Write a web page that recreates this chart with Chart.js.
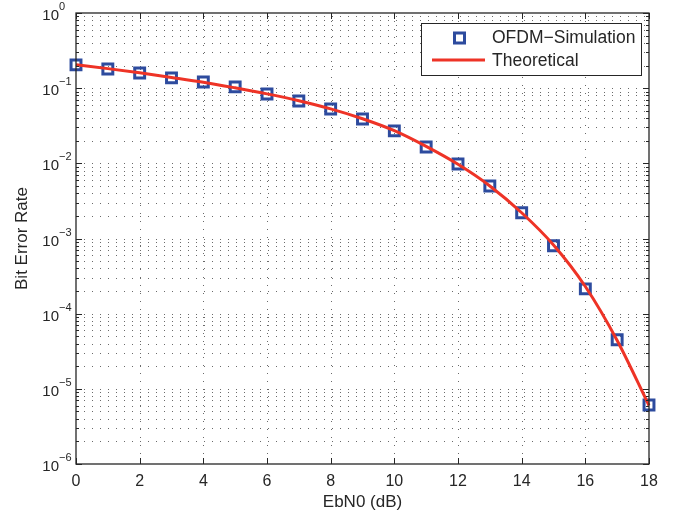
<!DOCTYPE html>
<html>
<head>
<meta charset="utf-8">
<title>BER vs EbN0</title>
<script src="https://cdn.jsdelivr.net/npm/chart.js@4.4.1/dist/chart.umd.min.js"></script>
<style>
  body { margin: 0; background: #fff; }
</style>
</head>
<body>
<canvas id="berChart" width="684" height="516"></canvas>
<script>
// values
const ebn0 = [0, 1, 2, 3, 4, 5, 6, 7, 8, 9, 10, 11, 12, 13, 14, 15, 16, 17, 18];
const simBer = [0.204, 0.180, 0.159, 0.137, 0.121, 0.104, 0.0837, 0.0676, 0.0529, 0.0389,
  0.0270, 0.0165, 0.0098, 0.0050, 0.0022, 0.00080, 0.000214, 0.000045, 0.0000061];
const theoryBer = [0.205, 0.182, 0.160, 0.139, 0.120, 0.101, 0.0840, 0.0680, 0.0530, 0.0392,
  0.0272, 0.0168, 0.0097, 0.0050, 0.0022, 0.00082, 0.000230, 0.000044, 0.0000060];
const xTicks = [0, 2, 4, 6, 8, 10, 12, 14, 16, 18];
const yDecades = [0, -1, -2, -3, -4, -5, -6];
const legendLabels = ["OFDM\u2212Simulation", "Theoretical"];

const simColor = "#2d4b9e";
const theoryColor = "#ee3326";
const axisColor = "#262626";
const fontFamily = "'Liberation Sans', Arial, sans-serif";

// MATLAB style box, inner ticks, dotted grid, 10^n labels and legend
const matlabAxes = {
  id: "matlabAxes",
  beforeDatasetsDraw(chart) {
    const { ctx, chartArea: a, scales: { x, y } } = chart;
    ctx.save();
    ctx.strokeStyle = "#6a6a6a";
    ctx.lineWidth = 1;
    ctx.setLineDash([1, 7]);
    ctx.beginPath();
    yDecades.forEach(d => {
      if (d === 0) return;
      for (let m = 1; m < 10; m++) {
        const py = Math.round(y.getPixelForValue(m * Math.pow(10, d))) + 0.5;
        if (py <= a.top + 1 || py >= a.bottom - 1) continue;
        ctx.moveTo(a.left, py);
        ctx.lineTo(a.right, py);
      }
    });
    xTicks.forEach(t => {
      const px = Math.round(x.getPixelForValue(t)) + 0.5;
      if (px <= a.left + 1 || px >= a.right - 1) return;
      ctx.moveTo(px, a.top);
      ctx.lineTo(px, a.bottom);
    });
    ctx.stroke();
    ctx.restore();
  },
  afterDraw(chart) {
    const { ctx, chartArea: a, scales: { x, y } } = chart;
    ctx.save();
    ctx.strokeStyle = axisColor;
    ctx.lineWidth = 1.3;
    ctx.setLineDash([]);
    ctx.strokeRect(a.left, a.top, a.right - a.left, a.bottom - a.top);

    // tick marks, inside
    ctx.lineWidth = 1;
    ctx.beginPath();
    xTicks.forEach(t => {
      const px = Math.round(x.getPixelForValue(t)) + 0.5;
      ctx.moveTo(px, a.bottom); ctx.lineTo(px, a.bottom - 6);
      ctx.moveTo(px, a.top); ctx.lineTo(px, a.top + 6);
    });
    yDecades.forEach(d => {
      for (let m = 1; m < 10; m++) {
        if (d === 0 && m > 1) break;
        const py = Math.round(y.getPixelForValue(m * Math.pow(10, d))) + 0.5;
        const len = m === 1 ? 6 : 3;
        ctx.moveTo(a.left, py); ctx.lineTo(a.left + len, py);
        ctx.moveTo(a.right, py); ctx.lineTo(a.right - len, py);
      }
    });
    ctx.stroke();

    // y tick labels as 10^n
    ctx.fillStyle = axisColor;
    yDecades.forEach(d => {
      const py = y.getPixelForValue(Math.pow(10, d));
      ctx.font = "15px " + fontFamily;
      ctx.textAlign = "right";
      ctx.textBaseline = "middle";
      ctx.fillText("10", 59, py + 3);
      ctx.font = "11px " + fontFamily;
      ctx.textAlign = "left";
      ctx.fillText(d === 0 ? "0" : "\u2212" + (-d), 59, py - 6);
    });

    // legend
    const lx = 421, ly = 23, lw = 220, lh = 52;
    ctx.fillStyle = "#fff";
    ctx.fillRect(lx, ly, lw, lh);
    ctx.strokeStyle = axisColor;
    ctx.lineWidth = 1;
    ctx.strokeRect(lx + 0.5, ly + 0.5, lw, lh);
    ctx.strokeStyle = simColor;
    ctx.lineWidth = 3;
    ctx.strokeRect(454.5, 33, 10, 10);
    ctx.strokeStyle = theoryColor;
    ctx.beginPath();
    ctx.moveTo(432, 60); ctx.lineTo(485, 60);
    ctx.stroke();
    ctx.fillStyle = axisColor;
    ctx.font = "17.5px " + fontFamily;
    ctx.textAlign = "left";
    ctx.textBaseline = "middle";
    ctx.fillText(legendLabels[0], 492, 38);
    ctx.fillText(legendLabels[1], 492, 61);
    ctx.restore();
  }
};

const ctx = document.getElementById("berChart").getContext("2d");
new Chart(ctx, {
  type: "line",
  data: {
    datasets: [
      {
        label: legendLabels[1],
        data: ebn0.map((v, i) => ({ x: v, y: theoryBer[i] })),
        borderColor: theoryColor,
        borderWidth: 3,
        pointRadius: 0,
        cubicInterpolationMode: "monotone",
        fill: false,
        clip: false,
        order: 0,
      },
      {
        label: legendLabels[0],
        data: ebn0.map((v, i) => ({ x: v, y: simBer[i] })),
        showLine: false,
        pointStyle: "rect",
        pointRadius: 7,
        pointBorderWidth: 3,
        pointBorderColor: simColor,
        pointBackgroundColor: "rgba(0,0,0,0)",
        clip: false,
        order: 1,
      },
    ],
  },
  options: {
    responsive: false,
    animation: false,
    layout: { padding: { top: 13, right: 35, left: 0, bottom: 0 } },
    plugins: {
      legend: { display: false },
      tooltip: { enabled: false },
    },
    scales: {
      x: {
        type: "linear",
        min: 0,
        max: 18,
        afterFit(scale) { scale.height = 52; },
        grid: { display: false },
        border: { display: false },
        ticks: {
          stepSize: 2,
          autoSkip: false,
          padding: 0,
          color: axisColor,
          font: { family: fontFamily, size: 16 },
        },
        title: {
          display: true,
          text: "EbN0 (dB)",
          color: axisColor,
          padding: { top: 0, bottom: 3 },
          font: { family: fontFamily, size: 17 },
        },
      },
      y: {
        type: "logarithmic",
        min: 1e-6,
        max: 1,
        afterFit(scale) { scale.width = 76; },
        grid: { display: false },
        border: { display: false },
        ticks: { display: false },
        title: {
          display: true,
          text: "Bit Error Rate",
          color: axisColor,
          padding: { top: 12, bottom: 0 },
          font: { family: fontFamily, size: 17 },
        },
      },
    },
  },
  plugins: [matlabAxes],
});
</script>
</body>
</html>
